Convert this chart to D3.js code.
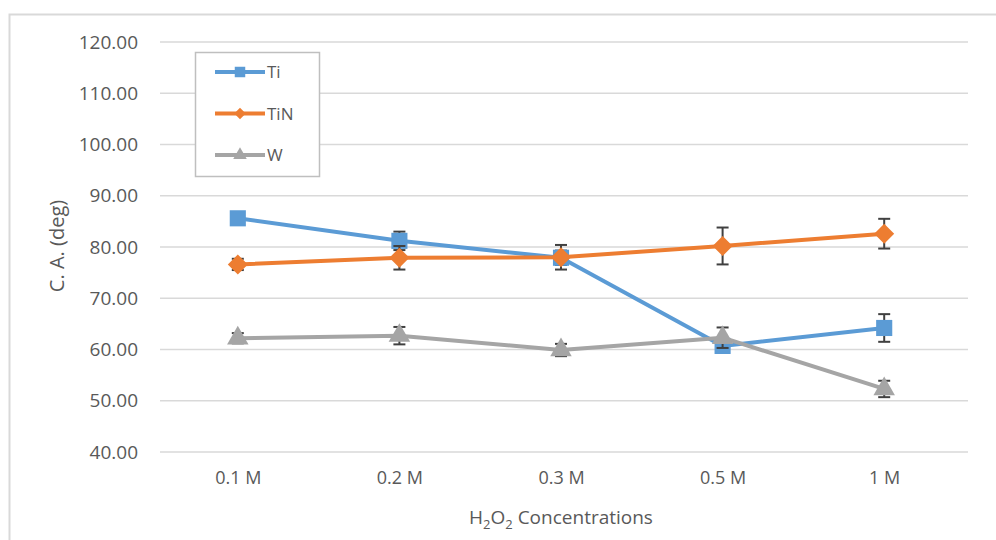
<!DOCTYPE html>
<html>
<head>
<meta charset="utf-8">
<script src="https://cdn.jsdelivr.net/npm/d3@7"></script>
<style>
  body { margin: 0; background: #fff; }
  text { font-family: "Open Sans", sans-serif; fill: #595959; }
</style>
</head>
<body>
<div id="chart"></div>
<script>
// data
var categories = ["0.1 M", "0.2 M", "0.3 M", "0.5 M", "1 M"];
var seriesNames = ["Ti", "TiN", "W"];
var tiValues = [85.6, 81.2, 77.9, 60.7, 64.2];
var tiErrors = [0.6, 1.8, 1.4, 1.0, 2.7];
var tinValues = [76.6, 77.9, 78.0, 80.2, 82.6];
var tinErrors = [1.1, 2.3, 2.4, 3.6, 2.9];
var wValues = [62.2, 62.7, 59.9, 62.3, 52.3];
var wErrors = [1.0, 1.7, 1.2, 2.0, 1.6];
var yTicks = [40, 50, 60, 70, 80, 90, 100, 110, 120];

var colors = {Ti: "#5b9bd5", TiN: "#ed7d31", W: "#a5a5a5"};
var series = [
    {name: "Ti", values: tiValues, errors: tiErrors},
    {name: "TiN", values: tinValues, errors: tinErrors},
    {name: "W", values: wValues, errors: wErrors}
];

var width = 996, height = 540;
var plot = {left: 160, right: 968, top: 42, bottom: 452};

var svg = d3.select("#chart").append("svg")
    .attr("width", width)
    .attr("height", height);

// chart frame (cut off at right and bottom)
svg.append("path")
    .attr("d", "M9.5,540 V14.5 H996")
    .attr("fill", "none")
    .attr("stroke", "#d9d9d9")
    .attr("stroke-width", 2);

var x = d3.scalePoint()
    .domain(categories)
    .range([plot.left - 3, plot.right - 3])
    .padding(0.5);

var y = d3.scaleLinear()
    .domain([40, 120])
    .range([plot.bottom, plot.top]);

// gridlines
svg.append("g")
    .selectAll("line")
    .data(yTicks)
    .join("line")
    .attr("x1", plot.left)
    .attr("x2", plot.right)
    .attr("y1", d => y(d))
    .attr("y2", d => y(d))
    .attr("stroke", "#d9d9d9")
    .attr("stroke-width", 1.5);

// y axis labels
var yAxis = svg.append("g")
    .attr("transform", "translate(" + (plot.left - 14) + ",0)")
    .call(d3.axisLeft(y).tickValues(yTicks).tickFormat(d3.format(".2f")).tickSize(0).tickPadding(8));
yAxis.select(".domain").remove();
yAxis.selectAll("text")
    .style("font-size", "19px")
    .style("font-family", "'Open Sans', sans-serif")
    .attr("fill", "#595959");

// x axis labels
var xAxis = svg.append("g")
    .attr("transform", "translate(0," + (plot.bottom + 17) + ")")
    .call(d3.axisBottom(x).tickSize(0).tickPadding(2));
xAxis.select(".domain").remove();
xAxis.selectAll("text")
    .style("font-size", "18px")
    .style("font-family", "'Open Sans', sans-serif")
    .attr("fill", "#595959");

// axis titles
var xTitle = svg.append("text")
    .attr("x", 561)
    .attr("y", 524)
    .attr("text-anchor", "middle")
    .style("font-size", "19px");
xTitle.append("tspan").text("H");
xTitle.append("tspan").text("2").attr("dy", 5).style("font-size", "13px");
xTitle.append("tspan").text("O").attr("dy", -5);
xTitle.append("tspan").text("2").attr("dy", 5).style("font-size", "13px");
xTitle.append("tspan").text(" Concentrations").attr("dy", -5);

svg.append("text")
    .attr("transform", "translate(64,246) rotate(-90)")
    .attr("text-anchor", "middle")
    .style("font-size", "20px")
    .text("C. A. (deg)");

var line = d3.line()
    .x((d, i) => x(categories[i]))
    .y(d => y(d));

// square rotated 45 degrees, as Excel draws its diamond marker
var diamond = function(s) {
    return {
        draw: function(ctx, size) {
            var r = Math.sqrt(size) / 2;
            ctx.moveTo(0, -r);
            ctx.lineTo(r, 0);
            ctx.lineTo(0, r);
            ctx.lineTo(-r, 0);
            ctx.closePath();
        }
    };
}();

var symbolFor = {
    Ti: d3.symbol().type(d3.symbolSquare).size(260),
    TiN: d3.symbol().type(diamond).size(400),
    W: d3.symbol().type(d3.symbolTriangle).size(200)
};

series.forEach(function(s) {
    var g = svg.append("g");
    g.append("path")
        .datum(s.values)
        .attr("d", line)
        .attr("fill", "none")
        .attr("stroke", colors[s.name])
        .attr("stroke-width", 4)
        .attr("stroke-linejoin", "round");

    // error bars
    var eb = g.selectAll(".err")
        .data(s.values)
        .join("g");
    eb.append("line")
        .attr("x1", (d, i) => x(categories[i]))
        .attr("x2", (d, i) => x(categories[i]))
        .attr("y1", (d, i) => y(d - s.errors[i]))
        .attr("y2", (d, i) => y(d + s.errors[i]))
        .attr("stroke", "#404040")
        .attr("stroke-width", 2);
    [-1, 1].forEach(function(sign) {
        eb.append("line")
            .attr("x1", (d, i) => x(categories[i]) - 6)
            .attr("x2", (d, i) => x(categories[i]) + 6)
            .attr("y1", (d, i) => y(d + sign * s.errors[i]))
            .attr("y2", (d, i) => y(d + sign * s.errors[i]))
            .attr("stroke", "#404040")
            .attr("stroke-width", 2);
    });

    g.selectAll(".mk")
        .data(s.values)
        .join("path")
        .attr("transform", (d, i) => "translate(" + x(categories[i]) + "," + y(d) + ")")
        .attr("d", symbolFor[s.name])
        .attr("fill", colors[s.name]);
});

// legend
var legend = svg.append("g");
legend.append("rect")
    .attr("x", 195.5)
    .attr("y", 52.5)
    .attr("width", 124)
    .attr("height", 124)
    .attr("fill", "#fff")
    .attr("stroke", "#bfbfbf")
    .attr("stroke-width", 1.5);

var legendSymbol = {
    Ti: d3.symbol().type(d3.symbolSquare).size(110),
    TiN: d3.symbol().type(diamond).size(130),
    W: d3.symbol().type(d3.symbolTriangle).size(80)
};

seriesNames.forEach(function(name, i) {
    var ly = 72 + i * 41.5;
    legend.append("line")
        .attr("x1", 215)
        .attr("x2", 265)
        .attr("y1", ly)
        .attr("y2", ly)
        .attr("stroke", colors[name])
        .attr("stroke-width", 4);
    legend.append("path")
        .attr("transform", "translate(240," + ly + ")")
        .attr("d", legendSymbol[name])
        .attr("fill", colors[name]);
    legend.append("text")
        .attr("x", 267)
        .attr("y", ly + 6)
        .style("font-size", "17px")
        .text(name);
});
</script>
</body>
</html>
